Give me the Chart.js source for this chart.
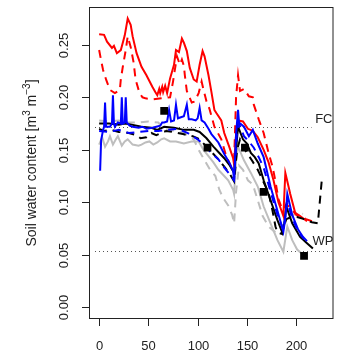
<!DOCTYPE html>
<html><head><meta charset="utf-8">
<script src="https://cdn.jsdelivr.net/npm/chart.js@4/dist/chart.umd.min.js"></script>
<style>html,body{margin:0;padding:0;background:#fff;overflow:hidden}canvas{display:block}</style>
</head><body>
<canvas id="c" width="339" height="354" style="width:339px;height:354px"></canvas>
<script>
// ---- tick labels ----
const xTicks = [0, 50, 100, 150, 200];
const xTickLabels = ["0", "50", "100", "150", "200"];
const yTicks = [0.00, 0.05, 0.10, 0.15, 0.20, 0.25];
const yTickLabels = ["0.00", "0.05", "0.10", "0.15", "0.20", "0.25"];
// y title pieces: [text, isSuperscript]
const yTitleParts = [["Soil water content [m", false], ["3", true], [" m", false], ["\u22123", true], ["]", false]];
const fcValue = 0.172, fcLabel = "FC";
const wpValue = 0.054, wpLabel = "WP";

// ---- series (day, soil water content) ----
const redSolidX = [0,5,8,13,15,18,22,24,26,29,32,34,38,43,48,54,57,59,61,62,64,65,67,69,72,76,78,81,84,86,89,92,96,99,102,105,107,111,114,117,119,124,127,132,136,137,139,141,146,151,156,161,167,172,177,182,187,189,191,194,199,204,211];
const redSolidY = [0.260,0.2595,0.253,0.247,0.249,0.242,0.245,0.252,0.259,0.275,0.269,0.258,0.242,0.229,0.221,0.210,0.205,0.202,0.208,0.204,0.210,0.205,0.211,0.204,0.218,0.231,0.245,0.243,0.256,0.252,0.244,0.228,0.217,0.215,0.231,0.244,0.239,0.221,0.205,0.188,0.185,0.178,0.166,0.153,0.142,0.136,0.165,0.178,0.177,0.170,0.168,0.162,0.150,0.138,0.121,0.100,0.087,0.128,0.120,0.108,0.090,0.087,0.082];

const redDashX = [0,2,4,7,11,16,21,22,24,27,29,32,35,37,41,44,47,55,63,72,75,79,82,84,86,87,89,94,97,101,104,106,109,112,117,124,129,134,137,139,141,143,147,152,156,157,162,167,172,176,179,182,186,190,195,200,204,210,216];
const redDashY = [0.245,0.235,0.226,0.217,0.207,0.204,0.207,0.217,0.229,0.245,0.258,0.248,0.233,0.217,0.204,0.200,0.199,0.198,0.199,0.200,0.215,0.239,0.231,0.236,0.230,0.221,0.206,0.195,0.196,0.204,0.215,0.207,0.196,0.189,0.172,0.160,0.144,0.134,0.140,0.200,0.221,0.206,0.208,0.201,0.200,0.193,0.179,0.166,0.147,0.134,0.120,0.103,0.093,0.098,0.094,0.088,0.087,0.084,0.082];

const blueSolidX = [1,2,4,5,6,7,11,13,14,15,16,19,22,23,24,26,27,28,31,34,40,44,48,54,58,62,64,66,69,71,73,76,78,80,83,86,89,91,94,98,100,102,104,107,111,114,121,127,132,136,137,139,141,142,147,152,156,161,167,174,181,187,189,191,196,202,207,211];
const blueSolidY = [0.130,0.159,0.169,0.172,0.195,0.172,0.172,0.175,0.202,0.175,0.172,0.176,0.175,0.200,0.175,0.176,0.200,0.176,0.173,0.172,0.171,0.172,0.170,0.171,0.172,0.173,0.176,0.176,0.177,0.188,0.177,0.178,0.193,0.180,0.181,0.182,0.193,0.179,0.179,0.178,0.180,0.190,0.178,0.176,0.170,0.165,0.157,0.146,0.138,0.130,0.121,0.165,0.188,0.176,0.172,0.163,0.169,0.156,0.143,0.115,0.092,0.072,0.085,0.108,0.088,0.074,0.067,0.063];

const blueDashX = [0,10,20,30,40,50,60,70,80,90,100,106,114,121,127,134,137,140,142,147,152,157,162,167,174,181,187,191,196,202,208];
const blueDashY = [0.168,0.167,0.169,0.166,0.167,0.168,0.168,0.169,0.170,0.166,0.160,0.155,0.147,0.141,0.133,0.125,0.121,0.168,0.175,0.163,0.158,0.152,0.143,0.133,0.110,0.088,0.074,0.100,0.085,0.072,0.065];

const blackSolidX = [0,10,20,26,33,43,53,59,66,76,86,96,102,109,116,122,127,132,137,139,141,146,150,154,158,162,167,174,181,186,188,190,196,204,211,217];
const blackSolidY = [0.175,0.175,0.174,0.175,0.174,0.172,0.171,0.169,0.172,0.171,0.169,0.169,0.167,0.161,0.153,0.147,0.142,0.136,0.128,0.150,0.172,0.160,0.156,0.147,0.143,0.137,0.121,0.102,0.083,0.071,0.080,0.096,0.080,0.067,0.061,0.056];

const blackDashX = [0,5,12,20,30,38,42,48,53,58,63,68,75,85,95,102,109,116,122,127,132,137,140,143,148,155,161,166,172,176,179,181,185,190,195,201,208,216,222,226];
const blackDashY = [0.170,0.168,0.169,0.167,0.166,0.164,0.161,0.162,0.166,0.164,0.166,0.168,0.167,0.165,0.163,0.160,0.153,0.146,0.140,0.134,0.128,0.120,0.150,0.160,0.150,0.140,0.131,0.121,0.109,0.092,0.077,0.071,0.070,0.084,0.086,0.086,0.084,0.081,0.080,0.121];

const graySolidX = [0,3,6,9,11,14,17,19,23,26,29,34,40,43,47,51,55,59,63,66,72,78,86,94,101,106,111,116,121,126,131,136,137,139,141,147,154,161,167,174,181,187,189,191,196,201,207];
const graySolidY = [0.155,0.162,0.153,0.158,0.163,0.155,0.160,0.163,0.154,0.158,0.160,0.155,0.154,0.155,0.157,0.158,0.155,0.157,0.160,0.161,0.158,0.158,0.156,0.158,0.158,0.150,0.144,0.138,0.131,0.126,0.121,0.112,0.108,0.140,0.153,0.140,0.128,0.115,0.096,0.080,0.064,0.053,0.065,0.077,0.064,0.055,0.050];

const grayDashX = [0,10,20,30,40,50,60,66,76,86,96,101,107,112,118,122,126,131,135,137,139,142,146,151,156,161,166,172,178,186,193,200,207];
const grayDashY = [0.178,0.177,0.178,0.176,0.176,0.177,0.176,0.170,0.168,0.166,0.160,0.150,0.140,0.132,0.125,0.112,0.104,0.097,0.088,0.080,0.110,0.135,0.131,0.121,0.117,0.102,0.087,0.077,0.072,0.078,0.085,0.090,0.089];

const obsX = [66, 110, 148, 167, 208];
const obsY = [0.187, 0.152, 0.152, 0.110, 0.049];

// ---- build ----
const pts = (xs, ys) => xs.map((x, i) => ({ x: x, y: ys[i] }));
const RED = '#ff0000', BLUE = '#0000ff', BLACK = '#000000', GRAY = '#bebebe';
const DASH = [8, 6];
function line(xs, ys, color, dashed) {
  return { data: pts(xs, ys), borderColor: color, borderWidth: 2, borderDash: dashed ? DASH : [],
           pointRadius: 0, fill: false, tension: 0 };
}
const datasets = [
  { data: pts(obsX, obsY), showLine: false, pointStyle: 'rect', pointRadius: 5.5,
    backgroundColor: '#000', borderColor: '#000', borderWidth: 0 },
  line(blueSolidX, blueSolidY, BLUE, false),
  line(blueDashX, blueDashY, BLUE, true),
  line(blackSolidX, blackSolidY, BLACK, false),
  line(blackDashX, blackDashY, BLACK, true),
  line(redSolidX, redSolidY, RED, false),
  line(redDashX, redDashY, RED, true),
  line(graySolidX, graySolidY, GRAY, false),
  line(grayDashX, grayDashY, GRAY, true)
];

const FAMILY = '"Liberation Sans", Arial, sans-serif';
const FONT = '13px ' + FAMILY;
const TITLE_FONT = '14px ' + FAMILY;
const SUP_FONT = '10px ' + FAMILY;
const TXT = '#222';

const decor = {
  id: 'decor',
  beforeDatasetsDraw(chart) {
    const { ctx, chartArea: a, scales: { y } } = chart;
    ctx.save();
    ctx.strokeStyle = '#555';
    ctx.lineWidth = 1;
    ctx.setLineDash([1, 3]);
    const fy = Math.round(y.getPixelForValue(fcValue)) + 0.5;
    const wy = Math.round(y.getPixelForValue(wpValue)) + 0.5;
    ctx.beginPath(); ctx.moveTo(a.left + 6, fy); ctx.lineTo(a.right - 22, fy); ctx.stroke();
    ctx.beginPath(); ctx.moveTo(a.left + 6, wy); ctx.lineTo(a.right, wy); ctx.stroke();
    ctx.restore();
  },
  afterDraw(chart) {
    const { ctx, chartArea: a, scales: { x, y } } = chart;
    ctx.save();
    ctx.strokeStyle = '#222';
    ctx.lineWidth = 1;
    ctx.setLineDash([]);
    ctx.strokeRect(a.left + 0.5, a.top + 0.5, a.right - a.left - 1, a.bottom - a.top - 1);
    ctx.fillStyle = TXT;
    ctx.font = FONT;
    // y ticks
    yTicks.forEach((v, i) => {
      const py = Math.round(y.getPixelForValue(v)) + 0.5;
      ctx.beginPath(); ctx.moveTo(a.left - 7, py); ctx.lineTo(a.left, py); ctx.stroke();
      ctx.save();
      ctx.translate(64, py);
      ctx.rotate(-Math.PI / 2);
      ctx.textAlign = 'center'; ctx.textBaseline = 'middle';
      ctx.fillText(yTickLabels[i], 0, 0);
      ctx.restore();
    });
    // x ticks
    xTicks.forEach((v, i) => {
      const px = Math.round(x.getPixelForValue(v)) + 0.5;
      ctx.beginPath(); ctx.moveTo(px, a.bottom); ctx.lineTo(px, a.bottom + 7); ctx.stroke();
      ctx.textAlign = 'center'; ctx.textBaseline = 'middle';
      ctx.fillText(xTickLabels[i], px, 346);
    });
    // y title with superscripts
    ctx.save();
    ctx.translate(36, (a.top + a.bottom) / 2);
    ctx.rotate(-Math.PI / 2);
    ctx.textAlign = 'left'; ctx.textBaseline = 'alphabetic';
    let total = 0;
    yTitleParts.forEach(([t, sup]) => { ctx.font = sup ? SUP_FONT : TITLE_FONT; total += ctx.measureText(t).width; });
    let cx = -total / 2;
    yTitleParts.forEach(([t, sup]) => {
      ctx.font = sup ? SUP_FONT : TITLE_FONT;
      ctx.fillText(t, cx, sup ? -6 : 0);
      cx += ctx.measureText(t).width;
    });
    ctx.restore();
    // FC / WP labels
    ctx.font = FONT;
    ctx.textAlign = 'right'; ctx.textBaseline = 'middle';
    ctx.fillText(fcLabel, a.right - 1, y.getPixelForValue(fcValue) - 7);
    ctx.fillText(wpLabel, a.right, y.getPixelForValue(wpValue) - 9);
    ctx.restore();
  }
};

new Chart(document.getElementById('c'), {
  type: 'line',
  data: { datasets },
  options: {
    responsive: false, animation: false, devicePixelRatio: 1,
    layout: { padding: { left: 89, top: 7, right: 1, bottom: 35 } },
    plugins: { legend: { display: false }, tooltip: { enabled: false } },
    scales: {
      x: { type: 'linear', display: false, min: -10.3, max: 237.9 },
      y: { type: 'linear', display: false, min: -0.0111, max: 0.286 }
    }
  },
  plugins: [decor]
});
</script>
</body></html>
